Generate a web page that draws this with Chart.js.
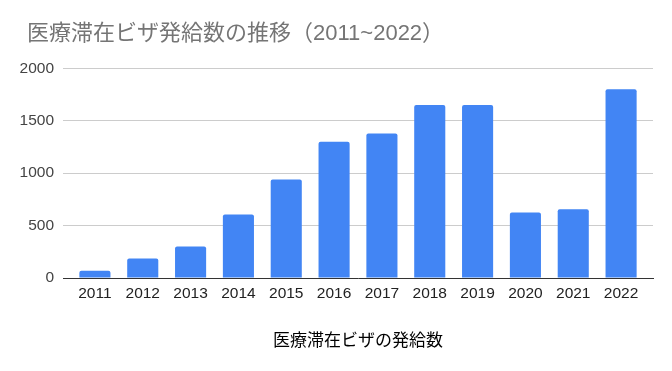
<!DOCTYPE html>
<html>
<head>
<meta charset="utf-8">
<script src="https://cdn.jsdelivr.net/npm/chart.js@4"></script>
<style>
  html, body { margin: 0; padding: 0; background: #fff; }
  #wrap { width: 672px; height: 371px; }
</style>
</head>
<body>
<div id="wrap"><canvas id="chart"></canvas></div>
<script>
// data
const years = ["2011", "2012", "2013", "2014", "2015", "2016", "2017", "2018", "2019", "2020", "2021", "2022"];
const visas = [70, 185, 300, 605, 940, 1300, 1380, 1650, 1650, 625, 655, 1800];
const yTicks = [0, 500, 1000, 1500, 2000];

const chartTitle = "医療滞在ビザ発給数の推移（2011~2022）";
const xTitle = "医療滞在ビザの発給数";

const fontFamily = "'Liberation Sans', Arial, 'Noto Sans CJK JP', sans-serif";

// title sits a little to the right of the y labels
const titleShift = {
  id: "titleShift",
  afterInit(chart) {
    const block = chart.titleBlock;
    if (!block) return;
    const draw = block.draw.bind(block);
    block.draw = function () {
      chart.ctx.save();
      chart.ctx.translate(8, 0);
      draw();
      chart.ctx.restore();
    };
  },
};

// keep the categories a bit inside the gridlines, like the original
const xInset = {
  id: "xInset",
  afterLayout(chart) {
    const x = chart.scales.x;
    x._startPixel += 8;
    x._endPixel -= 8;
    x._length -= 16;
  },
};

new Chart(document.getElementById("chart"), {
  type: "bar",
  data: {
    labels: years,
    datasets: [
      {
        label: xTitle,
        data: visas,
        backgroundColor: "#4285f4",
        borderRadius: 2,
        borderSkipped: "bottom",
        categoryPercentage: 1,
        barPercentage: 0.65,
      },
    ],
  },
  options: {
    responsive: true,
    maintainAspectRatio: false,
    animation: false,
    layout: { padding: { left: 19, right: 19, bottom: 19 } },
    plugins: {
      legend: { display: false },
      tooltip: { enabled: false },
      title: {
        display: true,
        text: chartTitle,
        align: "start",
        color: "#757575",
        font: { family: fontFamily, size: 22, weight: "normal" },
        padding: { top: 21, bottom: 21 },
      },
    },
    scales: {
      x: {
        grid: { display: false, drawTicks: false },
        border: { display: true, color: "#333333", width: 1 },
        ticks: {
          color: "#222222",
          font: { family: fontFamily, size: 15.5 },
          padding: 6,
          maxRotation: 0,
        },
        title: {
          display: true,
          text: xTitle,
          color: "#000000",
          font: { family: fontFamily, size: 17 },
          padding: { top: 23, bottom: 0 },
        },
      },
      y: {
        min: 0,
        max: 2000,
        afterBuildTicks: (axis) => {
          axis.ticks = yTicks.map((v) => ({ value: v }));
        },
        afterFit: (axis) => {
          axis.width = 44;
        },
        grid: { color: "#cccccc", drawTicks: false },
        border: { display: false },
        ticks: {
          color: "#444444",
          font: { family: fontFamily, size: 15.5 },
          padding: 9,
          callback: (v) => String(v),
        },
      },
    },
  },
  plugins: [titleShift, xInset],
});
</script>
</body>
</html>
